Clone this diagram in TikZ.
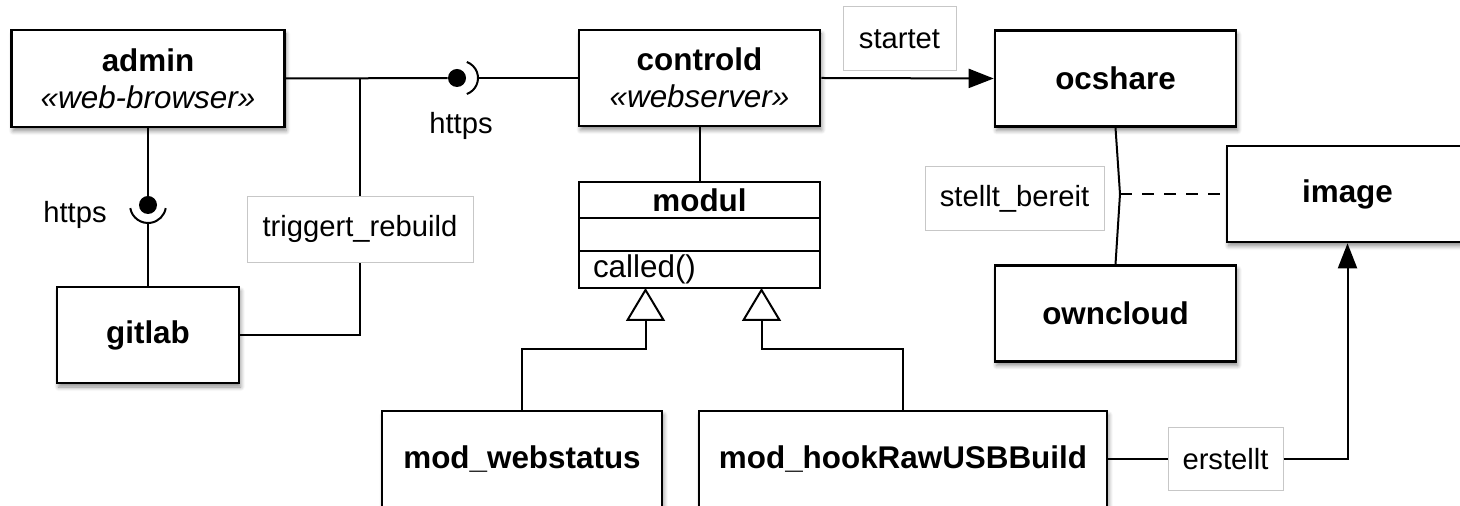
\documentclass[tikz,border=0pt]{standalone}
\usepackage{fontspec}
\setmainfont{Liberation Sans}
\usetikzlibrary{
	arrows.meta,
	positioning,
	shadows.blur,
	calc
}
\tikzset{
  % box
	cstbox/.style   ={draw=black,fill=white,line width=1.3pt,minimum width=120.5pt,minimum height=48pt,inner sep=0pt,align=center,font=\fontsize{15.7}{18.5}\selectfont,blur shadow={shadow xshift=0.8pt,shadow yshift=-2pt,shadow blur steps=6,shadow opacity=45}},
	cstclass/.style ={draw=black,fill=white,line width=1pt,outer sep=0pt,minimum width=120.5pt,inner sep=0pt,font=\fontsize{15.7}{18}\selectfont},
	cstlabel/.style ={draw=black!22,fill=white,line width=0.5pt,inner sep=0pt,font=\fontsize{14.6}{17}\selectfont},
	csttext/.style  ={inner sep=0pt,font=\fontsize{14.6}{17}\selectfont},
	cstball/.style  ={circle,fill=black,minimum size=9pt,inner sep=0pt},
  % connector
	cstline/.style  ={line width=1pt},
	cstra/.style    ={line width=1pt,-{Triangle[length=12.5pt,width=9.5pt]}},
	cstgen/.style   ={line width=1pt,-{Triangle[open,fill=white,length=16.5pt,width=19.5pt]}},
	cstdash/.style  ={line width=1pt,dash pattern=on 6pt off 5pt}
}
\begin{document}
\begin{tikzpicture}[x=0.5pt,y=0.5pt]
	\useasboundingbox (0,0) rectangle (1460,-506);
	% boxes
	\node[cstbox,minimum width=136.5pt,minimum height=48.5pt] (admin) at (148,-78.5) {\textbf{admin}\\\textit{«web-browser»}};
	\node[cstbox,minimum width=91pt] (gitlab) at (148,-335) {\textbf{gitlab}};
	\node[cstbox] (controld) at (699.5,-78) {\textbf{controld}\\\textit{«webserver»}};
	\node[cstbox] (ocshare) at (1115.5,-78.5) {\textbf{ocshare}};
	\node[cstbox] (owncloud) at (1115.5,-313.5) {\textbf{owncloud}};
	\node[cstbox] (image) at (1347.5,-194) {\textbf{image}};
	\node[cstbox,minimum width=140pt,minimum height=48.5pt] (modws) at (522,-459.5) {\textbf{mod\_webstatus}};
	\node[cstbox,minimum width=204pt,minimum height=48.5pt] (modhook) at (903,-459.5) {\textbf{mod\_hookRawUSBBuild}};
	% class modul
	\node[cstclass,minimum height=18pt] (modul) at (699.5,-200) {\textbf{modul}};
	\node[cstclass,minimum height=16.5pt,below=0pt of modul] (modulattr) {};
	\node[cstclass,minimum height=18.5pt,below=0pt of modulattr,text width=106.5pt,inner xsep=7pt,align=left] (modulops) {called()};
	% https admin -> controld
	\node[cstball] (ball1) at (457,-78) {};
	\coordinate (sock1c) at (461,-78);
	\coordinate (sock1) at (478,-78);
	\draw[cstline] (admin.east) -- (ball1);
	\draw[cstline] (sock1c) ++(-70:17) arc[start angle=-70,end angle=70,radius=17];
	\draw[cstline] (sock1) -- (controld.west);
	\node[csttext] (https1) at (461,-126) {https};
	% https admin -> gitlab
	\node[cstball] (ball2) at (148,-205) {};
	\coordinate (sock2) at (148,-223);
	\draw[cstline] (admin.south) -- (ball2);
	\draw[cstline] (ball2) ++(190:18) arc[start angle=190,end angle=350,radius=18];
	\draw[cstline] (sock2) -- (gitlab.north);
	\node[csttext] (https2) at (75,-215) {https};
	% triggert_rebuild
	\coordinate (br) at (360,-78);
	\draw[cstline] (br) |- node[cstlabel,pos=0.294,minimum width=113pt,minimum height=33pt] (trig) {triggert\_rebuild} (gitlab.east);
	% startet
	\draw[cstra] (controld.east) -- (ocshare.west);
	\node[cstlabel,minimum width=56.5pt,minimum height=32pt] (startet) at (899.5,-39) {startet};
	% stellt_bereit
	\coordinate (kink) at (1120,-194);
	\draw[cstline] (ocshare.south) -- (kink) -- (owncloud.north);
	\draw[cstdash] (kink) -- (image.west);
	\node[cstlabel,minimum width=89.5pt,minimum height=32pt] (stellt) at (1014.5,-199) {stellt\_bereit};
	% modul
	\draw[cstline] (controld.south) -- (modul.north);
	\coordinate (g1) at ([xshift=-27pt]modulops.south);
	\coordinate (g2) at ([xshift=31pt]modulops.south);
	\draw[cstgen] (modws.north) |- ([yshift=-30.5pt]g1) -- (g1);
	\draw[cstgen] (modhook.north) |- ([yshift=-30.5pt]g2) -- (g2);
	% erstellt
	\node[cstlabel,minimum width=57.5pt,minimum height=31.5pt] (erst) at (1225.5,-459.5) {erstellt};
	\draw[cstline] (modhook.east) -- (erst.west);
	\draw[cstra] (erst.east) -| (image.south);
\end{tikzpicture}
\end{document}
